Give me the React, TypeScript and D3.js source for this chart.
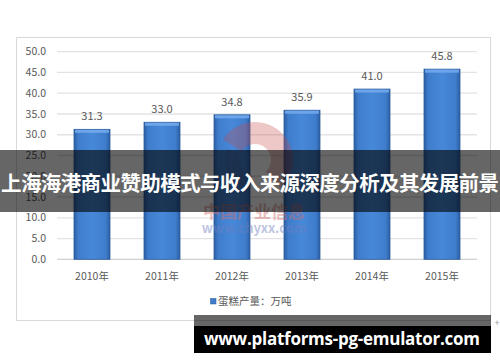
import * as d3 from "d3";
import { useEffect, useRef } from "react";

const years = ["2010年", "2011年", "2012年", "2013年", "2014年", "2015年"];
const output = [31.3, 33.0, 34.8, 35.9, 41.0, 45.8];
const yTicks = [0, 5, 10, 15, 20, 25, 30, 35, 40, 45, 50];
const legendLabel = "蛋糕产量：万吨";
const bannerTitle = "上海海港商业赞助模式与收入来源深度分析及其发展前景";
const footerText = "www.platforms-pg-emulator.com";

const W = 500;
const H = 362;

function drawChart(el: SVGSVGElement) {
    const svg = d3.select(el);
    svg.selectAll("*").remove();

    const area = { left: 57, right: 477, top: 51.7, bottom: 259.3 };
    const font = "'Noto Sans CJK SC', 'Noto Sans', sans-serif";

    const defs = svg.append("defs");
    const grad = defs.append("linearGradient")
        .attr("id", "barGrad")
        .attr("x1", "0").attr("x2", "1").attr("y1", "0").attr("y2", "0");
    grad.append("stop").attr("offset", "0%").attr("stop-color", "#2b5ea3");
    grad.append("stop").attr("offset", "12%").attr("stop-color", "#3f7dcc");
    grad.append("stop").attr("offset", "50%").attr("stop-color", "#4788d8");
    grad.append("stop").attr("offset", "88%").attr("stop-color", "#3f7dcc");
    grad.append("stop").attr("offset", "100%").attr("stop-color", "#2b5ea3");

    // chart frame
    svg.append("rect")
        .attr("x", 16.5).attr("y", 37.5)
        .attr("width", 474).attr("height", 283)
        .attr("fill", "#fff")
        .attr("stroke", "#d9d9d9");

    const scX = d3.scaleBand<string>()
        .domain(years)
        .range([area.left, area.right])
        .paddingInner(0.486)
        .paddingOuter(0.243);

    const scY = d3.scaleLinear()
        .domain([0, 50])
        .range([area.bottom, area.top]);

    // grid
    svg.append("g")
        .selectAll("line")
        .data(yTicks)
        .enter()
        .append("line")
        .attr("x1", area.left).attr("x2", area.right)
        .attr("y1", d => scY(d)).attr("y2", d => scY(d))
        .attr("stroke", d => d === 0 ? "#d0d0d0" : "#e3e3e3")
        .attr("stroke-width", 1.3);

    svg.append("g")
        .selectAll("text")
        .data(yTicks)
        .enter()
        .append("text")
        .attr("x", 46)
        .attr("y", d => scY(d))
        .attr("dy", "0.35em")
        .attr("text-anchor", "end")
        .attr("font-family", font)
        .attr("font-size", 10.5)
        .attr("fill", "#595959")
        .text(d => d.toFixed(1));

    // bars
    const data = years.map((y, i) => ({ year: y, value: output[i] }));
    const bars = svg.append("g");
    bars.selectAll("rect.bar")
        .data(data)
        .enter()
        .append("rect")
        .attr("class", "bar")
        .attr("x", d => scX(d.year)!)
        .attr("y", d => scY(d.value))
        .attr("width", scX.bandwidth())
        .attr("height", d => area.bottom - scY(d.value))
        .attr("fill", "url(#barGrad)")
        .attr("stroke", "#2a5b9c")
        .attr("stroke-width", 0.8);
    bars.selectAll("rect.top")
        .data(data)
        .enter()
        .append("rect")
        .attr("class", "top")
        .attr("x", d => scX(d.year)! + 1)
        .attr("y", d => scY(d.value) + 0.5)
        .attr("width", scX.bandwidth() - 2)
        .attr("height", 3)
        .attr("fill", "#79aef0")
        .attr("opacity", 0.8);

    // watermark logo (semi-transparent, above bars)
    const wm = svg.append("g").attr("opacity", 0.3);
    wm.append("path")
        .attr("d", d3.arc()({ innerRadius: 16, outerRadius: 38, startAngle: -1.0, endAngle: 2.4 }) as string)
        .attr("transform", "translate(255,160)")
        .attr("fill", "#c84848");
    wm.append("path")
        .attr("d", d3.arc()({ innerRadius: 16, outerRadius: 30, startAngle: 3.3, endAngle: 5.1 }) as string)
        .attr("transform", "translate(255,160)")
        .attr("fill", "#40609a");

    svg.append("g")
        .selectAll("text")
        .data(data)
        .enter()
        .append("text")
        .attr("x", d => scX(d.year)! + scX.bandwidth() / 2)
        .attr("y", d => scY(d.value) - 13)
        .attr("dy", "0.35em")
        .attr("text-anchor", "middle")
        .attr("font-family", font)
        .attr("font-size", 11)
        .attr("fill", "#595959")
        .text(d => d.value.toFixed(1));

    // x labels
    svg.append("g")
        .selectAll("text")
        .data(years)
        .enter()
        .append("text")
        .attr("x", d => scX(d)! + scX.bandwidth() / 2)
        .attr("y", 276)
        .attr("dy", "0.35em")
        .attr("text-anchor", "middle")
        .attr("font-family", font)
        .attr("font-size", 10.5)
        .attr("fill", "#595959")
        .text(d => d);

    // watermark text
    svg.append("text")
        .attr("x", 254).attr("y", 212).attr("dy", "0.35em")
        .attr("text-anchor", "middle")
        .attr("font-family", font)
        .attr("font-weight", "bold")
        .attr("font-size", 17)
        .attr("fill", "#d07070")
        .attr("opacity", 0.45)
        .text("中国产业信息");
    svg.append("text")
        .attr("x", 254).attr("y", 228).attr("dy", "0.35em")
        .attr("text-anchor", "middle")
        .attr("font-family", font)
        .attr("font-weight", "bold")
        .attr("font-size", 13)
        .attr("fill", "#7080c0")
        .attr("opacity", 0.45)
        .text("www.chyxx.com");

    // legend
    svg.append("rect")
        .attr("x", 210.5).attr("y", 298.5)
        .attr("width", 5.5).attr("height", 5.5)
        .attr("fill", "#3f7dcc")
        .attr("stroke", "#2a5b9c")
        .attr("stroke-width", 0.5);
    svg.append("text")
        .attr("x", 218).attr("y", 301.5).attr("dy", "0.35em")
        .attr("font-family", font)
        .attr("font-size", 10.5)
        .attr("fill", "#595959")
        .text(legendLabel);

    // title banner overlay
    svg.append("rect")
        .attr("x", 0).attr("y", 150)
        .attr("width", W).attr("height", 62)
        .attr("fill", "#000")
        .attr("opacity", 0.6);
    svg.append("text")
        .attr("x", W / 2).attr("y", 184).attr("dy", "0.35em")
        .attr("text-anchor", "middle")
        .attr("font-family", font)
        .attr("font-weight", "bold")
        .attr("font-size", 20.5)
        .attr("fill", "#fff")
        .attr("textLength", 498)
        .text(bannerTitle);

    // footer banner
    svg.append("rect")
        .attr("x", 194).attr("y", 315)
        .attr("width", 297).attr("height", 11)
        .attr("fill", "#000")
        .attr("opacity", 0.6);
    svg.append("rect")
        .attr("x", 194).attr("y", 326)
        .attr("width", 297).attr("height", 27)
        .attr("fill", "#000");
    svg.append("text")
        .attr("x", 204).attr("y", 339).attr("dy", "0.35em")
        .attr("font-family", "'Open Sans', 'Noto Sans', sans-serif")
        .attr("font-weight", "bold")
        .attr("font-size", 17)
        .attr("fill", "#fff")
        .attr("textLength", 276)
        .text(footerText);
    svg.append("text")
        .attr("x", 497).attr("y", 323).attr("dy", "0.35em")
        .attr("text-anchor", "middle")
        .attr("font-family", font)
        .attr("font-size", 9)
        .attr("fill", "#999")
        .text("+");
}

export default function App() {
    const svgRef = useRef<SVGSVGElement>(null);

    useEffect(() => {
        if (svgRef.current) drawChart(svgRef.current);
    }, []);

    return (
        <svg
            ref={svgRef}
            width={W}
            height={H}
            style={{ display: "block", position: "absolute", left: 0, top: 0, background: "#fff" }}
        />
    );
}
